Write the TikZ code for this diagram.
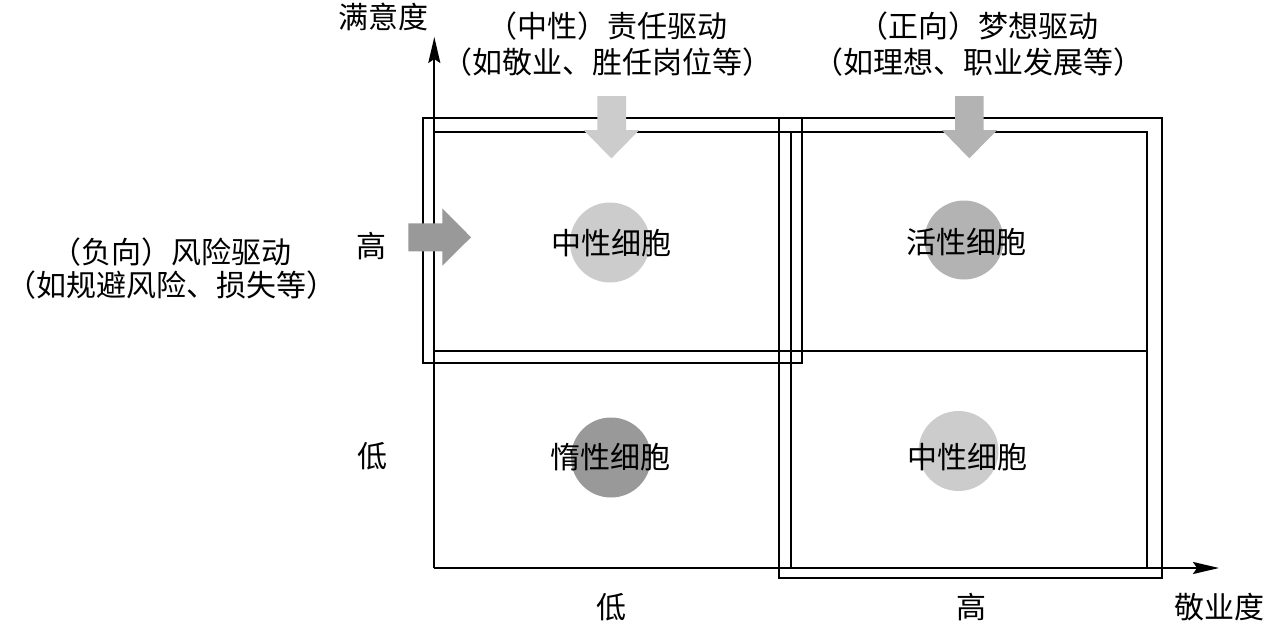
\documentclass[tikz,border=0pt]{standalone}
\usepackage{fontspec}
\newfontfamily\cjkfont{Noto Sans CJK SC}
\usetikzlibrary{arrows.meta}
\definecolor{lightg}{HTML}{CCCCCC}
\definecolor{midg}{HTML}{B3B3B3}
\definecolor{darkg}{HTML}{999999}
\tikzset{
  frame/.style={draw=black, line width=2pt},
  axis/.style={draw=black, line width=2pt, -{Stealth[length=26pt, width=12pt, inset=4pt]}},
  blob/.style={circle, inner sep=0pt, minimum size=80pt},
  lbl/.style={font=\cjkfont\fontsize{30}{36}\selectfont, inner sep=0pt, anchor=center},
  twoline/.style={lbl, align=center, font=\cjkfont\fontsize{30}{#1}\selectfont},
  blockarrow/.style={fill=#1, draw=none}
}
\begin{document}
\begin{tikzpicture}[x=1pt, y=-1pt]
\useasboundingbox (0,0) rectangle (1264,626);
\fill[white] (0,0) rectangle (1264,626);

% circles
\node[blob, fill=lightg] (c1) at (610,242.5) {};
\node[blob, fill=midg, minimum size=79pt] (c2) at (964,240) {};
\node[blob, fill=darkg] (c3) at (611,457.5) {};
\node[blob, fill=lightg] (c4) at (958.5,451) {};

% coordinates
\coordinate (O) at (434.3,568);
\coordinate (Ytip) at (434.3,37);
\coordinate (Xtip) at (1219,568);

% inner grid
\draw[frame] (434.3,132.3) -- (1146.7,132.3) -- (1146.7,568);
\draw[frame] (790.7,132.3) -- (790.7,568);
\draw[frame] (434.3,350.7) -- (1146.7,350.7);

% outer frames
\draw[frame] (422.7,117.7) rectangle (802.3,362.7);
\draw[frame] (779,117.7) rectangle (1161.7,578.3);

% axes
\draw[axis] (O) -- (Ytip);
\draw[axis] (O) -- (Xtip);

% block arrows
\fill[blockarrow=lightg] (597.3,96) -- (626,96) -- (626,130) -- (639.3,130) -- (611.5,158.3) -- (583.3,130) -- (597.3,130) -- cycle;
\fill[blockarrow=midg] (955,96) -- (983.7,96) -- (983.7,130) -- (997.3,130) -- (969.3,158.3) -- (941.7,130) -- (955,130) -- cycle;
\fill[blockarrow=darkg] (408.3,223.3) -- (442.3,223.3) -- (442.3,208.3) -- (471,237.3) -- (442.3,265.7) -- (442.3,251.3) -- (408.3,251.3) -- cycle;

% cell labels
\node[lbl] (t1) at (611,243) {中性细胞};
\node[lbl] (t2) at (966.7,241.7) {活性细胞};
\node[lbl] (t3) at (610,457) {惰性细胞};
\node[lbl] (t4) at (967.5,457) {中性细胞};

% axis labels
\node[lbl] (ylab) at (383.3,16.5) {满意度};
\node[lbl] (xlab) at (1219,607) {敬业度};
\node[lbl] (yhi) at (371.7,246) {高};
\node[lbl] (ylo) at (372,456) {低};
\node[lbl] (xlo) at (611,607) {低};
\node[lbl] (xhi) at (971,607) {高};

% driver labels
\node[twoline=36.7] (d1) at (607.5,44.2) {（中性）责任驱动\\（如敬业、胜任岗位等）};
\node[twoline=36.7] (d2) at (978,44.2) {（正向）梦想驱动\\（如理想、职业发展等）};
\node[twoline=33.3] (d3) at (171.7,268.3) {（负向）风险驱动\\（如规避风险、损失等）};
\end{tikzpicture}
\end{document}
